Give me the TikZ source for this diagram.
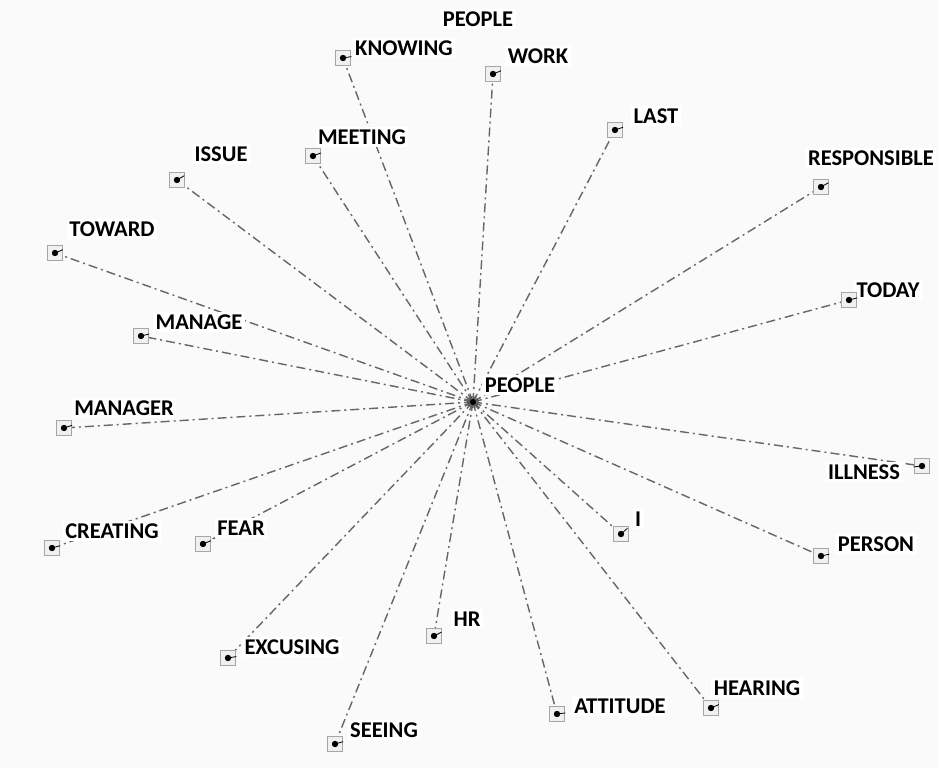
\documentclass[tikz,border=0pt]{standalone}
\usepackage{fontspec}
\setmainfont{Carlito}
\usetikzlibrary{calc}
\begin{document}
\begin{tikzpicture}[x=1pt,y=-1pt,
  term/.style={draw=gray!70,fill=gray!12,line width=0.8pt,minimum size=15pt,inner sep=0pt},
  lbl/.style={fill=white,inner sep=2.5pt,font=\fontsize{22.5}{24}\selectfont\bfseries,text=black},
  link/.style={draw=black!60,line width=1.4pt,dash pattern=on 9pt off 4pt on 2pt off 4pt},
  lead/.style={draw=black,line width=0.8pt}]
\fill[gray!4] (0,0) rectangle (938,768);
\useasboundingbox (0,0) rectangle (938,768);

% hub
\coordinate (hub) at (473,402);

% term positions
\foreach \n/\x/\y in {
  knowing/343/58, work/493/74, last/615/130, meeting/313/156, issue/177/180,
  responsible/821/187, toward/55/253, today/849/300, manage/141/336,
  manager/64/428, illness/922/466, creating/52/548, fear/203/544, i/621/534,
  person/821/556, hr/434/636, excusing/228/658, hearing/711/708,
  attitude/557/714, seeing/335/744}
  {\coordinate (\n) at (\x,\y);
   \draw[link] (hub) -- (\n);}

% labels
\foreach \n/\x/\y/\t in {
  knowing/404/48/KNOWING, work/538/56/WORK, last/656/116/LAST,
  meeting/362/137/MEETING, issue/221/154/ISSUE, responsible/871/158/RESPONSIBLE,
  toward/112/229/TOWARD, today/888/290/TODAY, manage/199/322/MANAGE,
  manager/124/408/MANAGER, illness/864/472/ILLNESS, creating/112/531/CREATING,
  fear/241/528/FEAR, i/638/519/I, person/876/544/PERSON, hr/467/619/HR,
  excusing/292/647/EXCUSING, hearing/757/688/HEARING, attitude/620/706/ATTITUDE,
  seeing/384/730/SEEING}
  {\node[lbl] (l\n) at (\x,\y) {\t};
   \node[term] (s\n) at (\n) {};
   \draw[lead] (\n) -- ($(\n)!8.5pt!(l\n.center)$);
   \fill[black] (\n) circle (3.2pt);}

% hub marker and its labels
\fill[black!70,opacity=0.5] (hub) circle (6pt);
\fill[black] (hub) circle (3pt);
\node[lbl] (lhub) at (520,385) {PEOPLE};
\node[lbl] (ltop) at (478,19) {PEOPLE};
\end{tikzpicture}
\end{document}
